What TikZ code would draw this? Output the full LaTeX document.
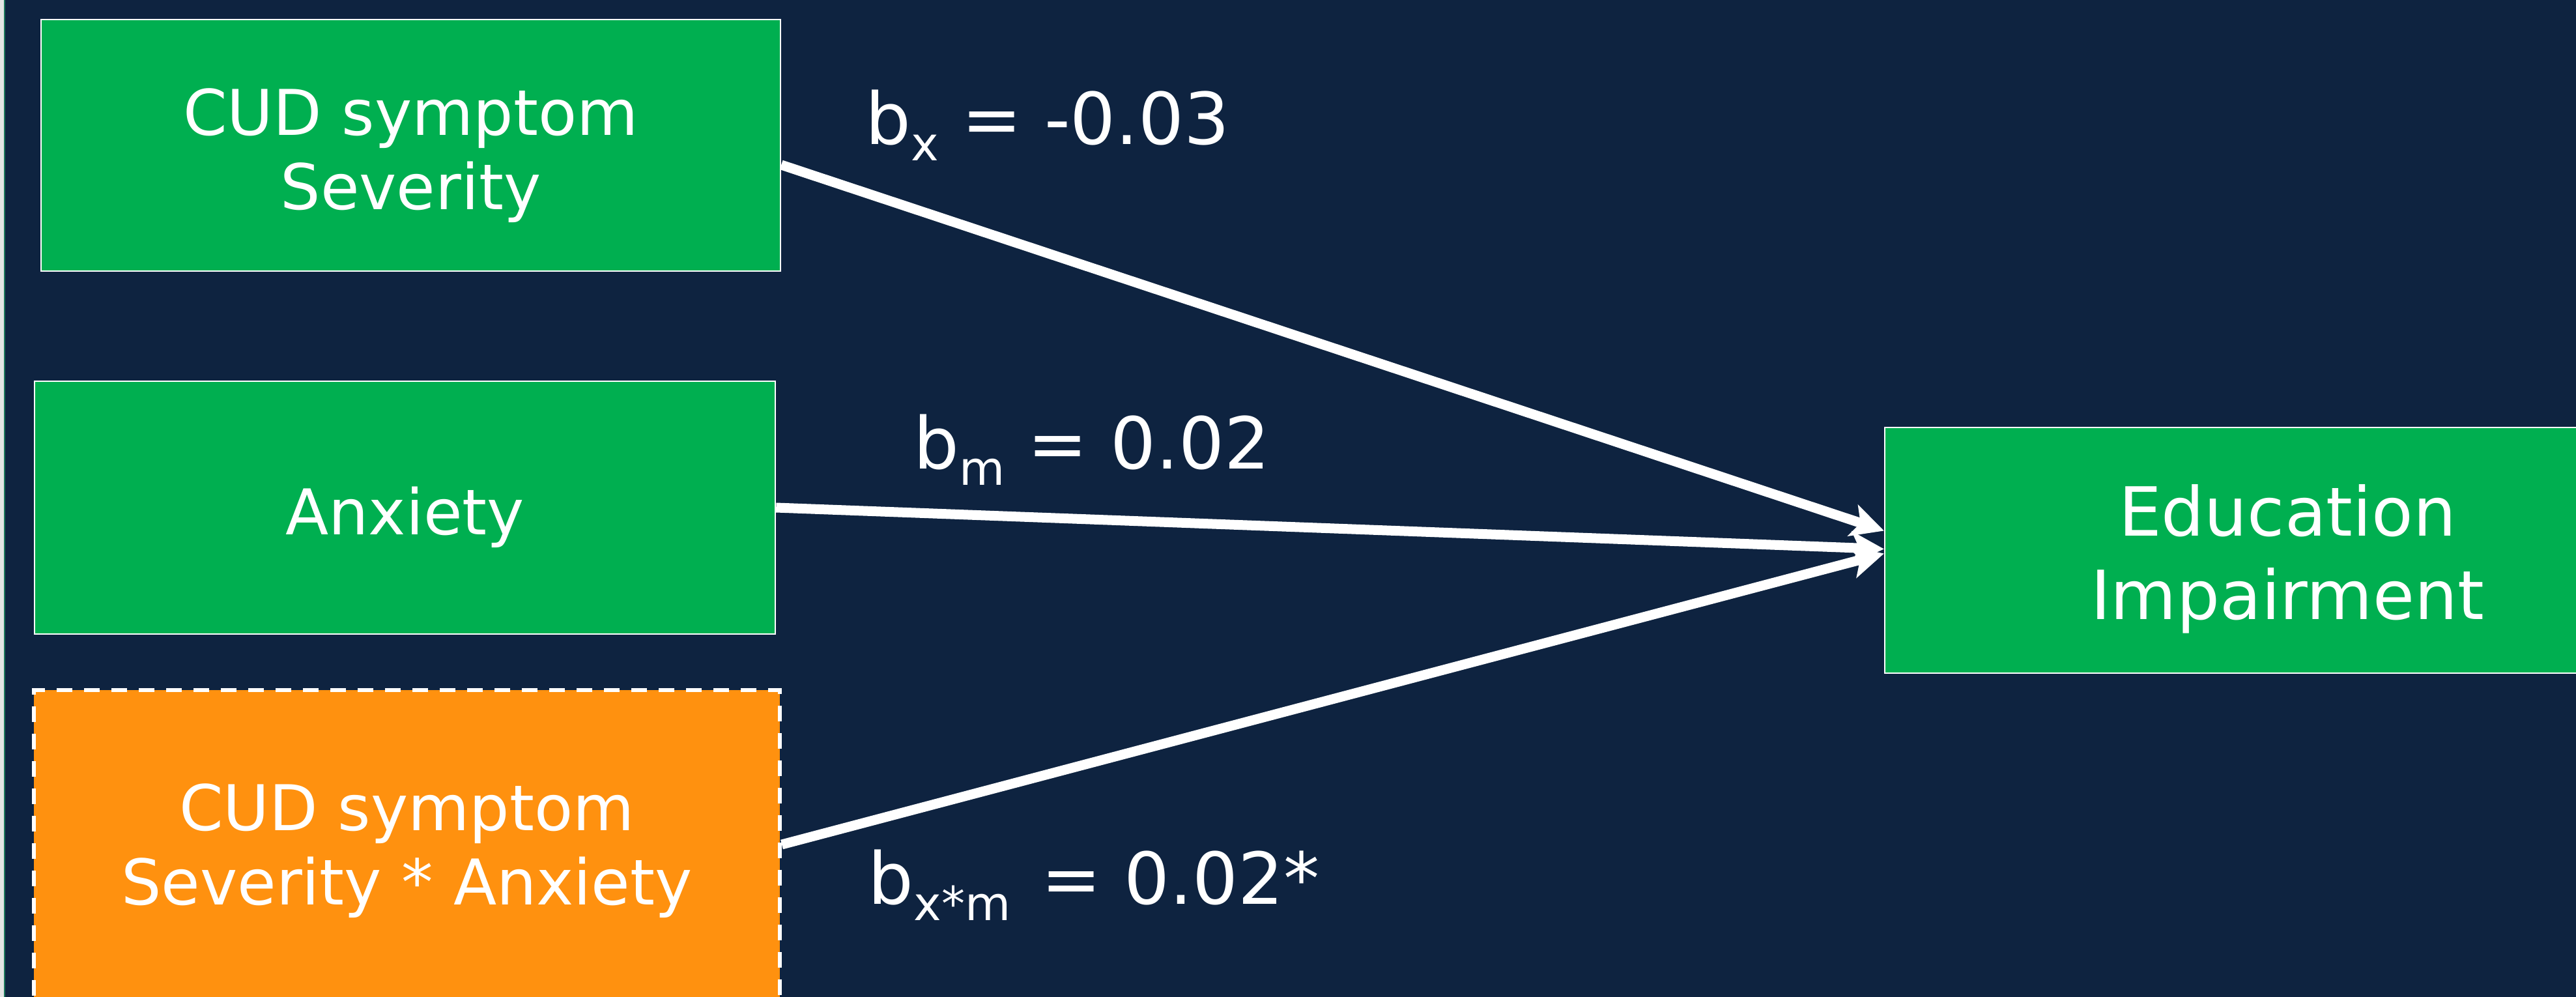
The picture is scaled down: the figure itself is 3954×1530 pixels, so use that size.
\documentclass[tikz,border=0pt]{standalone}
\usepackage{fontspec}
\setmainfont{DejaVu Sans}
\usetikzlibrary{arrows.meta,calc}
\definecolor{navybg}{RGB}{14,35,64}
\definecolor{boxgreen}{RGB}{0,175,80}
\definecolor{boxorange}{RGB}{255,145,15}
\definecolor{edgegray}{RGB}{228,228,228}
\definecolor{edgeteal}{RGB}{30,122,92}
\newcommand\coefsub[1]{\raisebox{-6.25pt}{\fontsize{18pt}{18pt}\selectfont #1}}
\begin{document}
\begin{tikzpicture}[x=0.25pt,y=-0.25pt,
  greenbox/.style={draw=white, line width=0.6pt, fill=boxgreen, inner sep=0pt},
  orangebox/.style={draw=white, line width=1.5pt, fill=boxorange, inner sep=0pt,
    dash pattern=on 6pt off 4.5pt},
  boxtext/.style={text=white, inner sep=0pt, align=center, anchor=north,
    font=\fontsize{24.2pt}{28.5pt}\selectfont},
  bigtext/.style={text=white, inner sep=0pt, align=center, anchor=north,
    font=\fontsize{26pt}{32pt}\selectfont},
  coef/.style={text=white, inner sep=0pt, anchor=base west,
    font=\fontsize{27.5pt}{30pt}\selectfont},
  conn/.style={draw=white, line width=3.75pt,
    -{Stealth[length=12.5pt, width=12.5pt, inset=3pt]}}]
\useasboundingbox (0,0) rectangle (3954,1530);
\clip (0,0) rectangle (3954,1530);
\fill[navybg] (0,0) rectangle (3954,1530);
\fill[edgegray] (0,0) rectangle (5.7,1530);
\fill[edgeteal] (5.7,0) rectangle (8,1530);

% boxes
\node[greenbox, minimum width=283.75pt, minimum height=96.5pt] (box1) at (630.5,223) {};
\node[greenbox, minimum width=284.25pt, minimum height=97pt] (box2) at (621.5,779) {};
\node[orangebox, minimum width=286.25pt, minimum height=135.25pt] (box3) at (624.5,1329.5) {};
\node[greenbox, minimum width=309pt, minimum height=94.25pt] (box4) at (3511,844.5) {};

% box texts
\node[boxtext] (box1txt) at (630.5,135) {CUD symptom\\Severity};
\node[boxtext] (box2txt) at (621.5,746) {Anxiety};
\node[boxtext] (box3txt) at (624.5,1202) {CUD symptom\\Severity * Anxiety};
\node[bigtext] (box4txt) at (3511,743) {Education\\Impairment};

% connectors
\draw[conn] ($(box1.east)+(0,30)$) -- ($(box4.west)+(0,-30)$);
\draw[conn] (box2.east) -- ($(box4.west)+(0,-2)$);
\draw[conn] ($(box3.east)+(0,-33.5)$) -- ($(box4.west)+(0,5)$);

% coefficient labels
\node[coef] (lbx) at (1328,222) {b\coefsub{x} = -0.03};
\node[coef] (lbm) at (1402,719) {b\coefsub{m} = 0.02};
\node[coef] (lbxm) at (1332,1387) {b\coefsub{x*m}\hspace{3pt} = 0.02*};
\end{tikzpicture}
\end{document}
